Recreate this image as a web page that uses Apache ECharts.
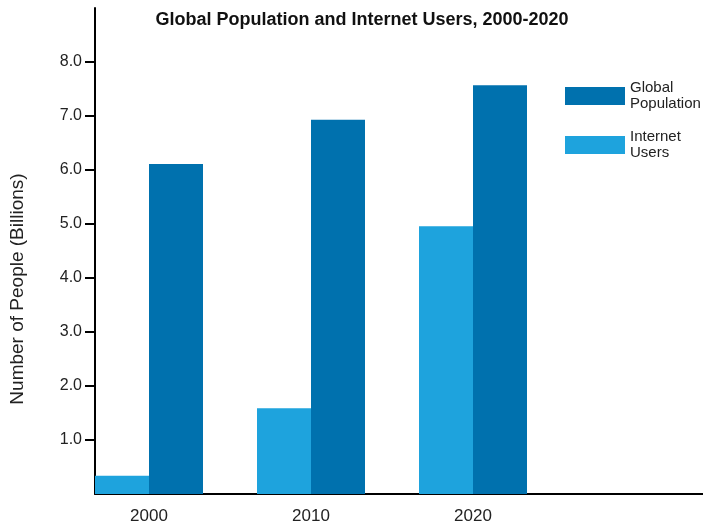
<!DOCTYPE html>
<html>
<head>
    <meta charset="utf-8">
    <title>Global Population and Internet Users</title>
    <script src="https://cdn.jsdelivr.net/npm/echarts@6/dist/echarts.min.js"></script>
</head>
<body style="margin:0">
<div id="bar-chart" style="width: 703px; height: 524px;"></div>
</body>
<script>
    // data (billions)
    var years = ['2000', '2010', '2020'];
    var population = [6.11, 6.93, 7.57];
    var internetUsers = [0.34, 1.59, 4.96];
    var yTicks = [1, 2, 3, 4, 5, 6, 7, 8];

    // each year sits on a slot of the category axis, 3 slots apart
    var SLOTS = 13, FIRST = 1, STEP = 3;
    var slots = [];
    var popData = [];
    var netData = [];
    for (var i = 0; i < SLOTS; i++) {
        slots.push('');
        popData.push('-');
        netData.push('-');
    }
    years.forEach(function (y, k) {
        var idx = FIRST + k * STEP;
        slots[idx] = y;
        popData[idx] = population[k];
        netData[idx] = internetUsers[k];
    });

    var font = '"Liberation Sans", Arial, sans-serif';
    var barChart = echarts.init(document.getElementById('bar-chart'));

    barChart.setOption({
        animation: false,
        title: {
            text: 'Global Population and Internet Users, 2000-2020',
            left: 357,
            textAlign: 'center',
            top: 6,
            textStyle: {fontFamily: font, fontSize: 18, fontWeight: 'bold', color: '#111'}
        },
        legend: {
            data: ['Global Population', 'Internet Users'],
            orient: 'vertical',
            left: 560,
            top: 75,
            itemWidth: 60,
            itemHeight: 18,
            itemGap: 17,
            icon: 'rect',
            formatter: function (n) { return n.replace(' ', '\n'); },
            textStyle: {fontFamily: font, fontSize: 15, lineHeight: 16, color: '#222'}
        },
        grid: {left: 95, right: -40, top: 8, bottom: 30, outerBoundsMode: 'none'},
        xAxis: {
            type: 'category',
            data: slots,
            boundaryGap: false,
            axisLine: {lineStyle: {color: '#000', width: 2}},
            axisTick: {show: false},
            axisLabel: {
                interval: 0, margin: 14,
                fontFamily: font, fontSize: 17, color: '#222'
            },
            splitLine: {show: false}
        },
        yAxis: {
            type: 'value',
            min: 0,
            max: 9,
            interval: 1,
            name: 'Number of People (Billions)',
            nameLocation: 'middle',
            nameGap: 68,
            nameTextStyle: {fontFamily: font, fontSize: 19, color: '#222', padding: [0, 76, 0, 0]},
            axisLine: {show: true, lineStyle: {color: '#000', width: 2}},
            axisTick: {show: true, length: 10, customValues: yTicks, lineStyle: {color: '#000', width: 2}},
            axisLabel: {
                customValues: yTicks,
                margin: 13,
                fontFamily: font, fontSize: 16, color: '#222',
                formatter: function (v) { return v.toFixed(1); }
            },
            splitLine: {show: false}
        },
        series: [
            {
                name: 'Internet Users',
                type: 'bar',
                data: netData,
                barWidth: '100%',
                barGap: '0%',
                itemStyle: {color: '#1EA3DD'}
            },
            {
                name: 'Global Population',
                type: 'bar',
                data: popData,
                barWidth: '100%',
                barGap: '0%',
                itemStyle: {color: '#0071AE'}
            }
        ]
    });
</script>
</html>
